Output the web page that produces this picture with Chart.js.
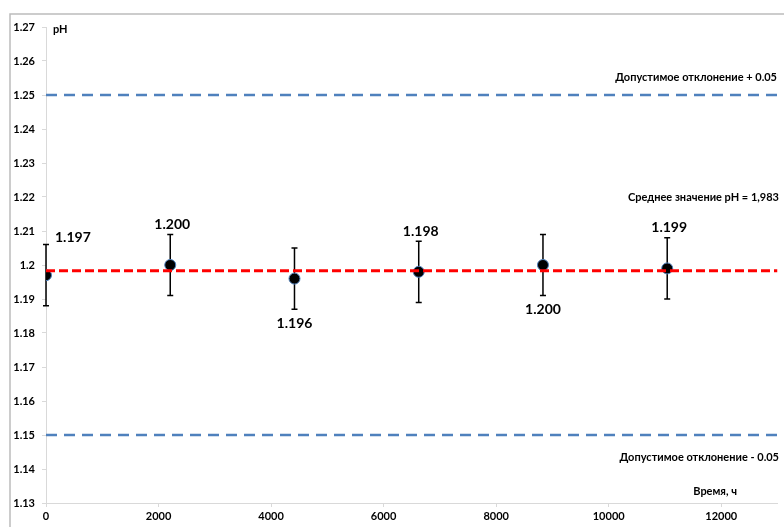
<!DOCTYPE html>
<html>
<head>
<meta charset="utf-8">
<script src="https://cdn.jsdelivr.net/npm/chart.js@4.4.1/dist/chart.umd.min.js"></script>
<style>
  html, body { margin: 0; padding: 0; background: #fff; }
  #wrap { width: 784px; height: 527px; position: relative; overflow: hidden; }
</style>
</head>
<body>
<div id="wrap"><canvas id="phChart" width="784" height="527"></canvas></div>
<script>
// measurements: time (h), pH and its uncertainty
const hours = [0, 2208, 4416, 6624, 8832, 11040];
const phValues = [1.197, 1.200, 1.196, 1.198, 1.200, 1.199];
const phErrors = [0.009, 0.009, 0.009, 0.009, 0.009, 0.009];
const labelPlacement = ['right', 'above', 'below', 'above', 'below', 'above'];

const meanPH = 1.1983;
const upperLimit = 1.25;
const lowerLimit = 1.15;

const xTickValues = [0, 2000, 4000, 6000, 8000, 10000, 12000];
const yTickValues = [1.13, 1.14, 1.15, 1.16, 1.17, 1.18, 1.19, 1.2, 1.21, 1.22, 1.23, 1.24, 1.25, 1.26, 1.27];

const upperText = 'Допустимое отклонение + 0.05';
const lowerText = 'Допустимое отклонение - 0.05';
const meanText = 'Среднее значение pH = 1,983';
const yTitle = 'pH';
const xTitle = 'Время, ч';

const X_MAX = 13000;
const FONT = 'Lato, "Open Sans", sans-serif';

function hLine(value) {
    return [{ x: 0, y: value }, { x: X_MAX, y: value }];
}

const errorBars = {
    id: 'errorBars',
    beforeDatasetsDraw(chart) {
        const ctx = chart.ctx;
        const xs = chart.scales.x, ys = chart.scales.y;
        ctx.save();
        ctx.strokeStyle = '#000';
        ctx.lineWidth = 1.5;
        hours.forEach((h, i) => {
            const px = xs.getPixelForValue(h);
            const top = ys.getPixelForValue(phValues[i] + phErrors[i]);
            const bottom = ys.getPixelForValue(phValues[i] - phErrors[i]);
            ctx.beginPath();
            ctx.moveTo(px, top);
            ctx.lineTo(px, bottom);
            ctx.moveTo(px - 3, top);
            ctx.lineTo(px + 3, top);
            ctx.moveTo(px - 3, bottom);
            ctx.lineTo(px + 3, bottom);
            ctx.stroke();
        });
        ctx.restore();
    }
};

const textLayer = {
    id: 'textLayer',
    afterDraw(chart) {
        const ctx = chart.ctx;
        const xs = chart.scales.x, ys = chart.scales.y;
        const area = chart.chartArea;
        ctx.save();

        // outer frame (top and left edges only are visible)
        ctx.strokeStyle = '#bcbcbc';
        ctx.lineWidth = 1.5;
        ctx.beginPath();
        ctx.moveTo(10, chart.height);
        ctx.lineTo(10, 14);
        ctx.lineTo(chart.width, 14);
        ctx.stroke();

        // value labels next to each point
        ctx.fillStyle = '#000';
        ctx.font = 'bold 14px ' + FONT;
        ctx.textBaseline = 'middle';
        hours.forEach((h, i) => {
            const px = xs.getPixelForValue(h);
            const top = ys.getPixelForValue(phValues[i] + phErrors[i]);
            const bottom = ys.getPixelForValue(phValues[i] - phErrors[i]);
            const text = phValues[i].toFixed(3);
            if (labelPlacement[i] === 'right') {
                ctx.textAlign = 'left';
                ctx.fillText(text, px + 9, top - 7);
            } else if (labelPlacement[i] === 'above') {
                ctx.textAlign = 'center';
                ctx.fillText(text, px + 2, top - 10);
            } else {
                ctx.textAlign = 'center';
                ctx.fillText(text, px, bottom + 14);
            }
        });

        // annotations
        ctx.font = 'bold 11px ' + FONT;
        ctx.textAlign = 'right';
        ctx.fillText(upperText, 777, ys.getPixelForValue(upperLimit) - 18);
        ctx.fillText(meanText, 779, ys.getPixelForValue(1.22));
        ctx.fillText(lowerText, 779, ys.getPixelForValue(lowerLimit) + 22);
        ctx.fillText(xTitle, 737, area.bottom - 12);
        ctx.textAlign = 'left';
        ctx.fillText(yTitle, area.left + 7, area.top + 2);
        ctx.restore();
    }
};

const ctx = document.getElementById('phChart').getContext('2d');
new Chart(ctx, {
    type: 'scatter',
    data: {
        datasets: [
            {
                type: 'line',
                data: hLine(meanPH),
                borderColor: '#ff0000',
                borderWidth: 3,
                borderDash: [9, 4],
                pointRadius: 0,
                order: 0
            },
            {
                data: hours.map((h, i) => ({ x: h, y: phValues[i] })),
                backgroundColor: '#000',
                borderColor: '#4f81bd',
                borderWidth: 1,
                pointRadius: 5.5,
                order: 1
            },
            {
                type: 'line',
                data: hLine(upperLimit),
                borderColor: '#4f81bd',
                borderWidth: 2.5,
                borderDash: [11, 7],
                pointRadius: 0,
                order: 2
            },
            {
                type: 'line',
                data: hLine(lowerLimit),
                borderColor: '#4f81bd',
                borderWidth: 2.5,
                borderDash: [11, 7],
                pointRadius: 0,
                order: 2
            }
        ]
    },
    options: {
        responsive: false,
        animation: false,
        layout: { padding: { left: 10, top: 27, right: 0, bottom: 0 } },
        plugins: {
            legend: { display: false },
            tooltip: { enabled: false }
        },
        scales: {
            x: {
                type: 'linear',
                min: 0,
                max: X_MAX,
                afterBuildTicks: s => { s.ticks = xTickValues.map(v => ({ value: v })); },
                afterFit: s => { s.height = 24; },
                ticks: {
                    padding: 3,
                    color: '#000',
                    font: { family: FONT, size: 11, weight: 'bold' },
                    callback: v => String(v)
                },
                grid: { drawOnChartArea: false, tickLength: 4, color: '#d9d9d9' },
                border: { color: '#d9d9d9', width: 1 }
            },
            y: {
                min: 1.13,
                max: 1.27,
                afterBuildTicks: s => { s.ticks = yTickValues.map(v => ({ value: v })); },
                afterFit: s => { s.width = 36; },
                ticks: {
                    padding: 7,
                    color: '#000',
                    font: { family: FONT, size: 11, weight: 'bold' },
                    callback: v => String(Number(v.toFixed(2)))
                },
                grid: { drawOnChartArea: false, tickLength: 4, color: '#d9d9d9' },
                border: { color: '#d9d9d9', width: 1 }
            }
        }
    },
    plugins: [errorBars, textLayer]
});
</script>
</body>
</html>
